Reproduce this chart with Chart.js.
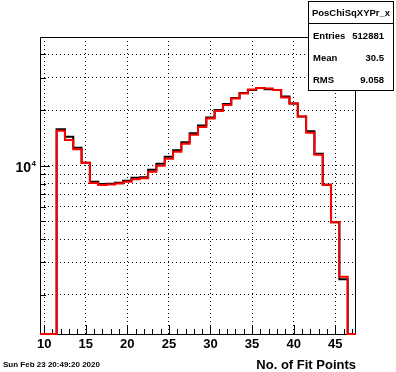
<!DOCTYPE html>
<html><head><meta charset="utf-8">
<script src="https://cdn.jsdelivr.net/npm/chart.js@4"></script>
<style>html,body{margin:0;padding:0;background:#fff}canvas{display:block}</style>
</head><body>
<canvas id="c" width="396" height="372"></canvas>
<script>
// bins: no. of fit points (bin centers), width 1
const fitPoints=[10,11,12,13,14,15,16,17,18,19,20,21,22,23,24,25,26,27,28,29,30,31,32,33,34,35,36,37,38,39,40,41,42,43,44,45,46,47];
const redCounts=[0,0,15474,13784,12257,10381,8058,7858,7916,8017,8190,8449,8555,9278,10000,10912,11909,13157,14723,16169,17975,19740,21281,23072,24560,25813,26305,26140,25655,23370,21680,18433,15096,11470,7889,4941,2503,0];
const blackCounts=[0,0,15766,14363,12489,10381,8190,7957,7986,8088,8293,8609,8663,9513,10253,11188,12134,13406,15001,16475,18201,19989,21549,23217,24715,25653,26305,25913,25655,23664,21680,18433,15381,11614,7889,4941,2426,0];
const xTickLabels=[10,15,20,25,30,35,40,45];
const yTickValues=[2000,3000,4000,5000,6000,7000,8000,9000,10000,20000,30000,40000];
const statsTitle='PosChiSqXYPr_x';
const statsRows=[['Entries','512881'],['Mean','30.5'],['RMS','9.058']];
const xTitle='No. of Fit Points';
const dateText='Sun Feb 23 20:49:20 2020';
const Y_MIN=1228,Y_MAX=49700;
const FONT='"Liberation Sans", Arial, sans-serif';

function steps(counts){
  const pts=fitPoints.map((p,i)=>({x:p-0.5,y:Math.max(counts[i],Y_MIN)}));
  const n=fitPoints.length-1;
  pts.push({x:fitPoints[n]+0.5,y:Math.max(counts[n],Y_MIN)});
  return pts;
}

const rootDecor={
  id:'rootDecor',
  beforeDatasetsDraw(chart){
    const {ctx,chartArea:a,scales:{x,y}}=chart;
    ctx.save();
    ctx.strokeStyle='#000';ctx.lineWidth=1;
    ctx.beginPath();
    ctx.rect(a.left+0.5,a.top+0.5,a.right-a.left-1,a.bottom-a.top);
    // inward ticks
    x.ticks.forEach(t=>{
      const px=Math.round(x.getPixelForValue(t.value))+0.5;
      const len=xTickLabels.includes(t.value)?9:5;
      ctx.moveTo(px,a.bottom);ctx.lineTo(px,a.bottom-len);
    });
    y.ticks.forEach(t=>{
      const py=Math.round(y.getPixelForValue(t.value))+0.5;
      const len=t.value===10000?10:6;
      ctx.moveTo(a.left,py);ctx.lineTo(a.left+len,py);
    });
    ctx.stroke();
    // 10^4 label
    const py=y.getPixelForValue(10000);
    ctx.fillStyle='#000';
    ctx.font='bold 14px '+FONT;
    ctx.textAlign='right';ctx.textBaseline='alphabetic';
    ctx.fillText('10',31,py+6.5);
    ctx.font='bold 8px '+FONT;
    ctx.textAlign='left';
    ctx.fillText('4',31.5,py+0.5);
    ctx.restore();
  },
  afterDraw(chart){
    const {ctx}=chart;
    ctx.save();
    // axis title and date
    ctx.fillStyle='#000';
    ctx.font='bold 13px '+FONT;
    ctx.textAlign='right';ctx.textBaseline='alphabetic';
    ctx.fillText(xTitle,356,368.5);
    ctx.font='bold 8px '+FONT;
    ctx.textAlign='left';
    ctx.fillText(dateText,3,367);
    // stats box
    const bx=308.5,by=1.5,bw=85,bh=89;
    ctx.fillStyle='#fff';ctx.fillRect(bx,by,bw,bh);
    ctx.strokeStyle='#000';ctx.lineWidth=1;
    ctx.strokeRect(bx,by,bw,bh);
    ctx.beginPath();ctx.moveTo(bx,23.5);ctx.lineTo(bx+bw,23.5);ctx.stroke();
    ctx.fillStyle='#000';
    ctx.font='bold 9.5px '+FONT;
    ctx.textBaseline='middle';
    ctx.textAlign='center';
    ctx.fillText(statsTitle,bx+bw/2,13.5);
    statsRows.forEach((r,i)=>{
      const ty=36+i*22;
      ctx.textAlign='left';ctx.fillText(r[0],313,ty);
      ctx.textAlign='right';ctx.fillText(r[1],384,ty);
    });
    ctx.restore();
  }
};

new Chart(document.getElementById('c'),{
  type:'line',
  data:{datasets:[{
    label:'red',
    data:steps(redCounts),
    borderColor:'#ff0000',
    borderWidth:2,
    stepped:true,
    pointRadius:0,
    fill:false,
    clip:2
  },{
    label:'black',
    data:steps(blackCounts),
    borderColor:'#000000',
    borderWidth:2,
    stepped:true,
    pointRadius:0,
    fill:false,
    clip:2
  }]},
  options:{
    responsive:false,
    animation:false,
    devicePixelRatio:1,
    layout:{padding:{top:37,right:40,left:0,bottom:0}},
    plugins:{legend:{display:false},tooltip:{enabled:false},title:{display:false}},
    scales:{
      x:{
        type:'linear',min:9.5,max:47.5,
        afterBuildTicks:s=>{s.ticks=fitPoints.map(v=>({value:v}));},
        afterFit:s=>{s.height=38;},
        ticks:{
          autoSkip:false,maxRotation:0,padding:3,color:'#000',
          font:{family:FONT,size:13,weight:'bold'},
          callback:v=>xTickLabels.includes(v)?String(v):''
        },
        grid:{drawTicks:false,lineWidth:1,color:c=>c.tick&&xTickLabels.includes(c.tick.value)?'#000':'rgba(0,0,0,0)'},
        border:{display:false,dash:[1,3]}
      },
      y:{
        type:'logarithmic',min:Y_MIN,max:Y_MAX,
        afterBuildTicks:s=>{s.ticks=yTickValues.map(v=>({value:v}));},
        afterFit:s=>{s.width=40;},
        ticks:{display:false},
        grid:{drawTicks:false,lineWidth:1,color:'#000'},
        border:{display:false,dash:[1,3]}
      }
    }
  },
  plugins:[rootDecor]
});
</script>
</body></html>
